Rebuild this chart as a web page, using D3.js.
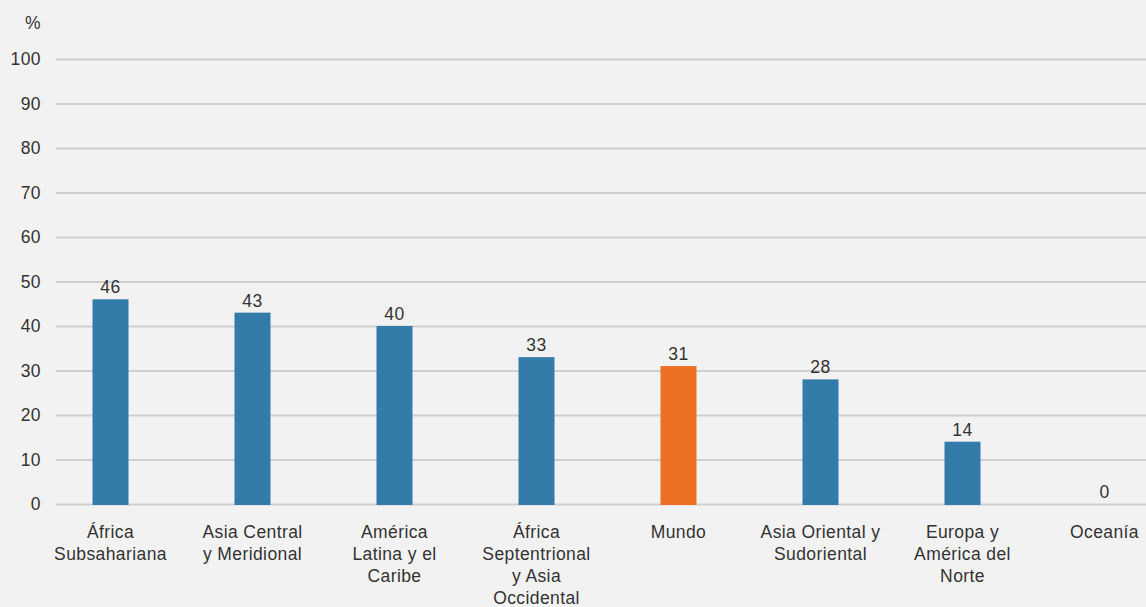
<!DOCTYPE html>
<html><head><meta charset="utf-8">
<script src="https://cdn.jsdelivr.net/npm/d3@7"></script>
<style>
html,body{margin:0;padding:0;background:#f2f2f2;}
svg{display:block;font-family:"Liberation Sans",Arial,Helvetica,sans-serif;}
svg text{letter-spacing:0.4px;}
</style></head>
<body>
<svg id="chart" width="1146" height="607"></svg>
<script>
const categories = [
  ["África","Subsahariana"],
  ["Asia Central","y Meridional"],
  ["América","Latina y el","Caribe"],
  ["África","Septentrional","y Asia","Occidental"],
  ["Mundo"],
  ["Asia Oriental y","Sudoriental"],
  ["Europa y","América del","Norte"],
  ["Oceanía"]
];
const values = [46, 43, 40, 33, 31, 28, 14, 0];
const highlight = [false, false, false, false, true, false, false, false];
const yTicks = [0,10,20,30,40,50,60,70,80,90,100];
const yUnit = "%";

const svg = d3.select("#chart");
const W = 1146, H = 607;
const gridLeft = 56, gridRight = 1146;
const y = d3.scaleLinear().domain([0,100]).range([504,59]);
const x = d3.scaleBand().domain(d3.range(categories.length)).range([39.5, 1175.5]);
const barW = 36;
const blue = "#337ba9", orange = "#ed6f24", textCol = "#333333";
const fs = "17.5px";

svg.append("rect").attr("width",W).attr("height",H).attr("fill","#f2f2f2");

// grid
const yAxis = d3.axisLeft(y).tickValues(yTicks).tickSize(-(gridRight-gridLeft)).tickPadding(15);
const ga = svg.append("g").attr("transform",`translate(${gridLeft},0)`).call(yAxis);
ga.select(".domain").remove();
ga.selectAll(".tick line").attr("stroke","#cfcfcf").attr("stroke-width",2);
ga.selectAll(".tick text").attr("fill",textCol).style("font-size",fs)
  .attr("font-family","'Liberation Sans',Arial,sans-serif");

svg.append("text").attr("x",41).attr("y",29).attr("text-anchor","end")
  .attr("fill",textCol).style("font-size",fs).text(yUnit);

// bars
svg.selectAll("rect.bar").data(values).join("rect").attr("class","bar")
  .attr("x",(d,i)=>x(i)+x.bandwidth()/2-barW/2)
  .attr("width",barW)
  .attr("y",d=>y(d))
  .attr("height",d=>d>0 ? y(0)-y(d)+1 : 0)
  .attr("fill",(d,i)=>highlight[i]?orange:blue);

// value labels
svg.selectAll("text.val").data(values).join("text").attr("class","val")
  .attr("x",(d,i)=>x(i)+x.bandwidth()/2)
  .attr("y",d=>y(d)-6)
  .attr("text-anchor","middle").attr("fill",textCol).style("font-size",fs)
  .text(d=>d);

// category labels
const cg = svg.selectAll("text.cat").data(categories).join("text").attr("class","cat")
  .attr("text-anchor","middle").attr("fill",textCol).style("font-size",fs);
cg.each(function(lines,i){
  const t = d3.select(this);
  lines.forEach((ln,j)=>{
    t.append("tspan").attr("x",x(i)+x.bandwidth()/2).attr("y",538+22*j).text(ln);
  });
});
</script>
</body></html>
